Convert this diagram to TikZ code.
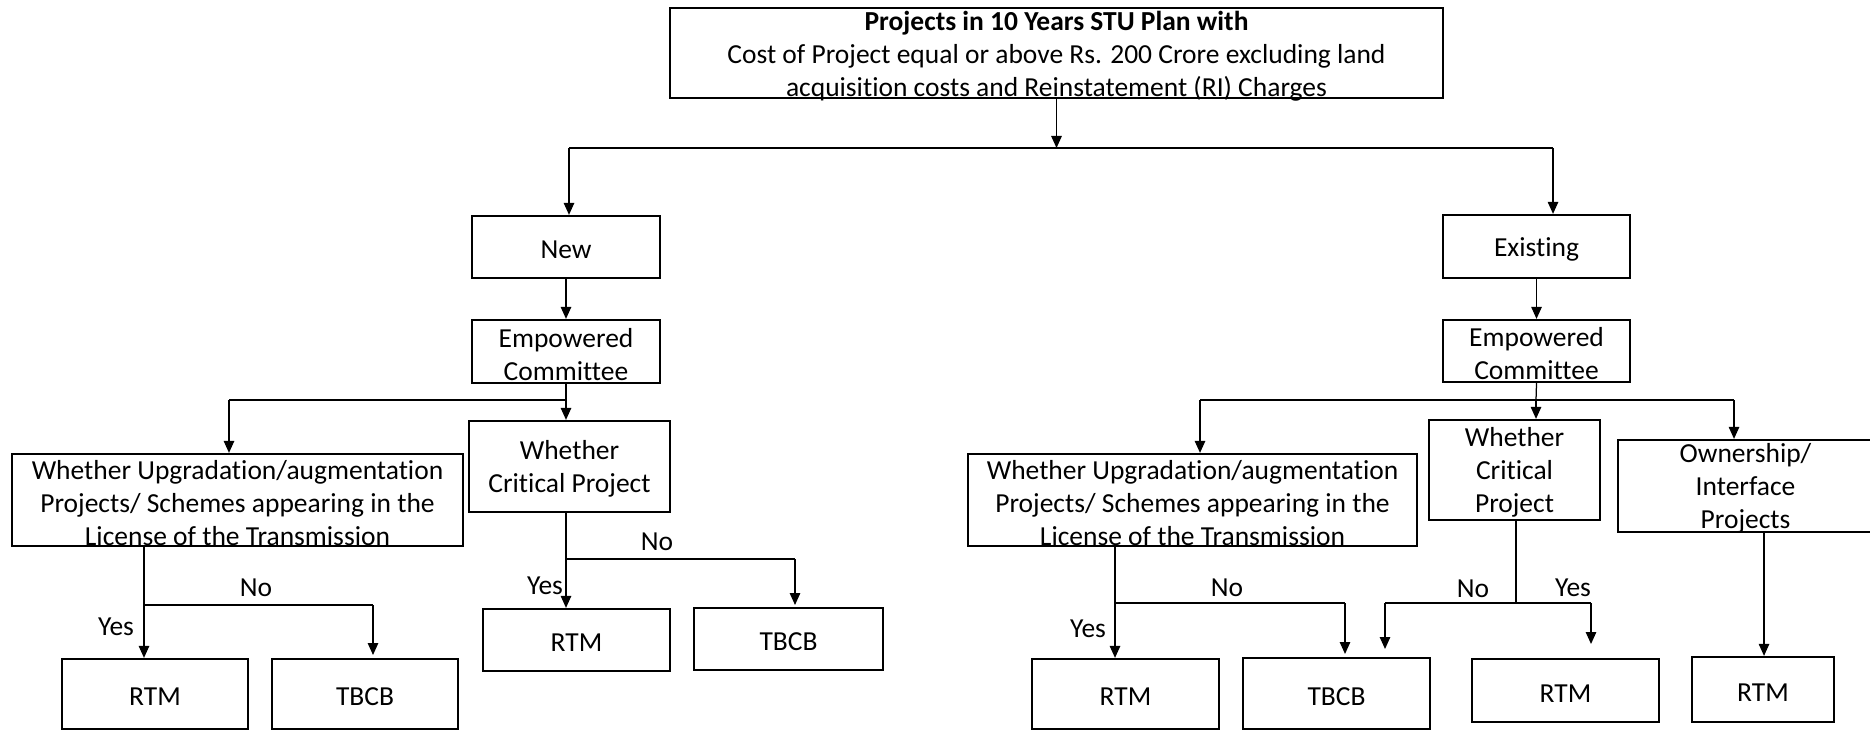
\documentclass[tikz,border=0pt]{standalone}
\usepackage{fontspec}
\setmainfont[Ligatures=NoCommon]{Carlito}
\usetikzlibrary{fit,arrows.meta}
\begin{document}
\begin{tikzpicture}[x=0.4pt,y=-0.4pt,
  txt/.style={align=center, font=\fontsize{11}{13.2}\selectfont, inner sep=0pt, yshift=-1.1pt},
  box/.style={draw, line width=0.9pt, inner sep=0pt},
  conn/.style={line width=0.5pt},
  arr/.style={conn,-{Triangle[width=4.2pt,length=4.8pt]}},
  lbl/.style={font=\fontsize{11}{13}\selectfont, inner sep=0pt}]
\useasboundingbox (0,0) rectangle (1870,731);
% top
\node[box, fit={(670,8) (1443,98)}, label={[txt]center:{\textbf{Projects in 10 Years STU Plan with}\\Cost of Project equal or above Rs. 200 Crore excluding land\\acquisition costs and Reinstatement (RI) Charges}}] (top) {};
\coordinate (hl) at (569,148);
\coordinate (hr) at (1553,148);
\draw[arr] (top.south) -- (top.south |- hl);
\draw[conn] (hl) -- (hr);
% left
\node[box, fit={(472,216) (660,278)}, label={[txt]center:New}] (new) {};
\node[box, fit={(472,320) (660,383)}, label={[txt]center:{Empowered\\Committee}}] (ecl) {};
\draw[arr] (hl) -- (hl |- new.north);
\draw[arr] (new) -- (ecl);
\node[box, fit={(12,454) (463,546)}, label={[txt]center:{Whether Upgradation/augmentation\\Projects/ Schemes appearing in the\\License of the Transmission}}] (upl) {};
\node[box, fit={(469,421) (670,512)}, label={[txt]center:{Whether\\Critical Project}}] (crl) {};
\coordinate (bl) at (566,400);
\coordinate (bll) at (229,400);
\draw[conn] (ecl.south) -- (bl) -- (bll);
\draw[arr] (bll) -- (bll |- upl.north);
\draw[arr] (bl) -- (bl |- crl.north);
\node[box, fit={(62,659) (248,729)}, label={[txt]center:RTM}] (rtml) {};
\node[box, fit={(272,659) (458,729)}, label={[txt]center:TBCB}] (tbcbl) {};
\coordinate (yl) at (144,605);
\coordinate (nl) at (373,605);
\coordinate (nle) at (373,655);
\draw[arr] (upl.south -| yl) -- (yl |- rtml.north);
\draw[conn] (yl) -- (nl);
\draw[arr] (nl) -- (nle);
\node[lbl] (yesl) at (116,627) {Yes};
\node[lbl] (nol) at (256,588) {No};
\node[box, fit={(483,609) (670,671)}, label={[txt]center:RTM}] (rtmm) {};
\node[box, fit={(694,608) (883,670)}, label={[txt]center:TBCB}] (tbcbm) {};
\coordinate (yc) at (566,559);
\coordinate (nc) at (795,559);
\coordinate (nce) at (795,605);
\draw[arr] (crl.south -| yc) -- (yc |- rtmm.north);
\draw[conn] (yc) -- (nc);
\draw[arr] (nc) -- (nce);
\node[lbl] (noc) at (657,542) {No};
\node[lbl] (yesc) at (545,586) {Yes};
% right
\node[box, fit={(1443,215) (1630,278)}, label={[txt]center:Existing}] (ex) {};
\node[box, fit={(1443,320) (1630,382)}, label={[txt]center:{Empowered\\Committee}}] (ecr) {};
\draw[arr] (hr) -- (hr |- ex.north);
\draw[arr] (ex) -- (ecr);
\node[box, fit={(968,454) (1417,546)}, label={[txt]center:{Whether Upgradation/augmentation\\Projects/ Schemes appearing in the\\License of the Transmission}}] (upr) {};
\node[box, fit={(1429,420) (1600,520)}, label={[txt]center:{Whether\\Critical\\Project}}] (crr) {};
\node[box, fit={(1618,440) (1873,532)}, label={[txt]center:{Ownership/\\Interface\\Projects}}] (own) {};
\coordinate (br) at (1536,400);
\coordinate (brl) at (1200,400);
\coordinate (brr) at (1734,400);
\draw[conn] (ecr.south) -- (br);
\draw[conn] (brl) -- (brr);
\draw[arr] (brl) -- (brl |- upr.north);
\draw[arr] (br) -- (br |- crr.north);
\draw[arr] (brr) -- (brr |- own.north);
\node[box, fit={(1032,659) (1219,729)}, label={[txt]center:RTM}] (rtmr1) {};
\node[box, fit={(1243,658) (1430,729)}, label={[txt]center:TBCB}] (tbcbr) {};
\coordinate (yr) at (1115,603);
\coordinate (nr) at (1345,603);
\coordinate (nre) at (1345,654);
\draw[arr] (upr.south -| yr) -- (yr |- rtmr1.north);
\draw[conn] (yr) -- (nr);
\draw[arr] (nr) -- (nre);
\node[lbl] (yesr) at (1088,629) {Yes};
\node[lbl] (nor) at (1227,588) {No};
\node[box, fit={(1472,659) (1659,722)}, label={[txt]center:RTM}] (rtmr2) {};
\node[box, fit={(1692,657) (1834,722)}, label={[txt]center:RTM}] (rtmr3) {};
\coordinate (cr) at (1516,603);
\coordinate (crn) at (1385,603);
\coordinate (cry) at (1591,603);
\coordinate (crne) at (1385,649);
\coordinate (crye) at (1591,644);
\draw[conn] (crr.south -| cr) -- (cr);
\draw[conn] (crn) -- (cry);
\draw[arr] (crn) -- (crne);
\draw[arr] (cry) -- (crye);
\node[lbl] (nocr) at (1473,589) {No};
\node[lbl] (yescr) at (1573,588) {Yes};
\coordinate (ov) at (1764,532);
\draw[arr] (own.south -| ov) -- (ov |- rtmr3.north);
\end{tikzpicture}
\end{document}
